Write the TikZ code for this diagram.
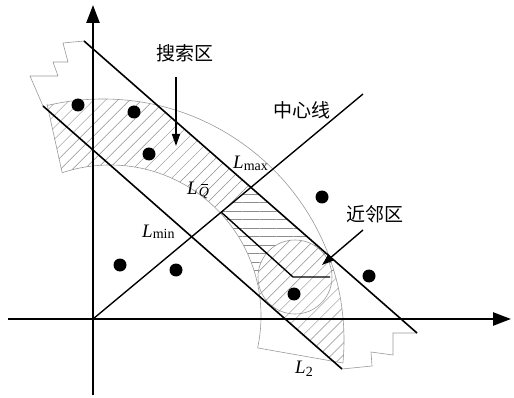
\documentclass[tikz,border=0pt]{standalone}
\usepackage{fontspec}
\setmainfont{Liberation Serif}
\newfontfamily\cjk{Noto Sans CJK SC}
\usetikzlibrary{arrows.meta,patterns.meta}
\tikzset{
  axisline/.style={line width=2.5pt, -{Triangle[length=18pt,width=13pt]}},
  bound/.style={line width=1.6pt},
  thingray/.style={gray!80, line width=0.6pt},
  dot/.style={circle, fill, inner sep=0pt, minimum size=13pt},
  cjklabel/.style={font=\cjk\fontsize{19}{19}\selectfont, inner sep=0pt},
  llabel/.style={font=\fontsize{19}{19}\selectfont, inner sep=0pt},
  hatch/.style={pattern={Lines[angle=45,distance=8.5pt,line width=0.45pt]}, pattern color=gray!90},
  hhatch/.style={pattern={Lines[angle=0,distance=8.5pt,line width=0.45pt]}, pattern color=gray!90},
  pointer/.style={line width=1.4pt, -{Triangle[length=12pt,width=8pt]}}
}
\newcommand{\sub}[2][-1.5pt]{\raisebox{#1}{\fontsize{14}{14}\selectfont #2}}
\newcommand{\qbar}{\textit{Q}\llap{\rule[11.5pt]{7pt}{0.6pt}\kern1pt}}

\begin{document}
\begin{tikzpicture}[x=1pt, y=-1pt]
  \useasboundingbox (0,0) rectangle (514,398);
  % points
  \coordinate (O) at (93,319);
  \coordinate (xstart) at (8,319);
  \coordinate (xend) at (511,319);
  \coordinate (ystart) at (93,395);
  \coordinate (yend) at (93,5);
  \coordinate (c) at (363,94);
  \coordinate (max1) at (84,41);
  \coordinate (max2) at (417,333);
  \coordinate (min1) at (43,106);
  \coordinate (min2) at (342,369);
  \coordinate (q1) at (221,212);
  \coordinate (q2) at (293,277);
  \coordinate (q3) at (330,277);
  \coordinate (nb) at (295,277);
  \coordinate (oc) at (103,340);
  \coordinate (ic) at (110,316);

  % hatched part of the ring
  \begin{scope}
    \clip (-77,-100) -- (550,450) -- (434,450) -- (150,200) -- (-100,200) -- (-100,-100) -- cycle;
    \clip (-60,-380) -- (94.5,319.5) -- (600,408) -- (600,-380) -- cycle;
    \clip (oc) circle (241);
    \fill[hatch] (0,0) rectangle (514,398);
    \fill[white] (143,277) -- (596,-100) -- (700,-100) -- (700,277) -- cycle;
    \fill[hhatch] (143,277) -- (596,-100) -- (700,-100) -- (700,277) -- cycle;
    \fill[white] (nb) circle (37);
    \fill[hatch] (nb) circle (37);
  \end{scope}
  \fill[white] (ic) circle (151);

  % ring outline
  \begin{scope}
    \clip (-60,-380) -- (94.5,319.5) -- (600,408) -- (600,-380) -- cycle;
    \draw[thingray] (oc) circle (241);
    \draw[thingray] (ic) circle (151);
  \end{scope}
  \draw[thingray] (47,104) -- (62,172);
  \draw[thingray] (258,348) -- (343,363);
  \draw[thingray] (nb) circle (37);

  % band ends
  \draw[thingray] (max1) -- (63,43) -- (68,62) -- (53,62) -- (58,76) -- (30,76) -- (min1);
  \draw[thingray] (min2) -- (372,366) -- (371,352) -- (393,355) -- (393,333) -- (max2);

  \draw[bound] (max1) -- (max2);
  \draw[bound] (min1) -- (min2);
  \draw[line width=1.4pt] (O) -- (c);
  \draw[line width=1.4pt] (q1) -- (q2) -- (q3);

  \draw[axisline] (xstart) -- (xend);
  \draw[axisline] (ystart) -- (yend);

  \node[dot] (d1) at (78,105) {};
  \node[dot] (d2) at (134,112) {};
  \node[dot] (d3) at (149,154) {};
  \node[dot] (d4) at (120,265) {};
  \node[dot] (d5) at (176,270) {};
  \node[dot] (d6) at (322,197) {};
  \node[dot] (d7) at (369,276) {};
  \node[dot] (d8) at (294,294) {};

  % labels
  \node[cjklabel] (search) at (185,53) {搜索区};
  \coordinate (s1) at (176,77);
  \coordinate (s2) at (176,146);
  \draw[pointer] (s1) -- (s2);
  \node[cjklabel] (centre) at (302,110) {中心线};
  \node[cjklabel] (near) at (375,214) {近邻区};
  \coordinate (n1) at (363,230);
  \coordinate (n2) at (322,265);
  \draw[pointer] (n1) -- (n2);
  \node[llabel, anchor=base west] (lmax) at (233,169) {\textit{L}\sub{max}};
  \node[llabel, anchor=base west] (lq) at (187,195) {\textit{L}\kern1pt\sub{\qbar}};
  \node[llabel, anchor=base west] (lmin) at (142,237) {\textit{L}\sub{min}};
  \node[llabel, anchor=base west] (l2) at (295,373) {\textit{L}\sub[-3pt]{2}};
\end{tikzpicture}
\end{document}
